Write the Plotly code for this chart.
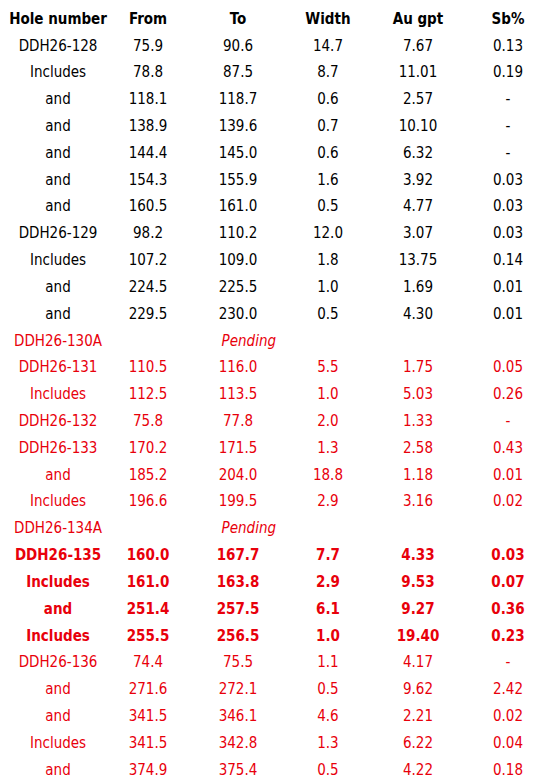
import plotly.graph_objects as go

headers = ["Hole number", "From", "To", "Width", "Au gpt", "Sb%"]
holes = ["DDH26-128", "Includes", "and", "and", "and", "and", "and", "DDH26-129", "Includes", "and", "and",
         "DDH26-130A", "DDH26-131", "Includes", "DDH26-132", "DDH26-133", "and", "Includes", "DDH26-134A",
         "DDH26-135", "Includes", "and", "Includes", "DDH26-136", "and", "and", "Includes", "and"]
from_m = ["75.9", "78.8", "118.1", "138.9", "144.4", "154.3", "160.5", "98.2", "107.2", "224.5", "229.5",
          "", "110.5", "112.5", "75.8", "170.2", "185.2", "196.6", "",
          "160.0", "161.0", "251.4", "255.5", "74.4", "271.6", "341.5", "341.5", "374.9"]
to_m = ["90.6", "87.5", "118.7", "139.6", "145.0", "155.9", "161.0", "110.2", "109.0", "225.5", "230.0",
        "<i>Pending</i>", "116.0", "113.5", "77.8", "171.5", "204.0", "199.5", "<i>Pending</i>",
        "167.7", "163.8", "257.5", "256.5", "75.5", "272.1", "346.1", "342.8", "375.4"]
width = ["14.7", "8.7", "0.6", "0.7", "0.6", "1.6", "0.5", "12.0", "1.8", "1.0", "0.5",
         "", "5.5", "1.0", "2.0", "1.3", "18.8", "2.9", "",
         "7.7", "2.9", "6.1", "1.0", "1.1", "0.5", "4.6", "1.3", "0.5"]
au = ["7.67", "11.01", "2.57", "10.10", "6.32", "3.92", "4.77", "3.07", "13.75", "1.69", "4.30",
      "", "1.75", "5.03", "1.33", "2.58", "1.18", "3.16", "",
      "4.33", "9.53", "9.27", "19.40", "4.17", "9.62", "2.21", "6.22", "4.22"]
sb = ["0.13", "0.19", "-", "-", "-", "0.03", "0.03", "0.03", "0.14", "0.01", "0.01",
      "", "0.05", "0.26", "-", "0.43", "0.01", "0.02", "",
      "0.03", "0.07", "0.36", "0.23", "-", "2.42", "0.02", "0.04", "0.18"]
bold_rows = [19, 20, 21, 22]

RED = "#e8000b"
FONT = "DejaVu Sans Condensed, Liberation Sans Narrow, Arial"
cols = [holes, from_m, to_m, width, au, sb]

fig = go.Figure()
# header row
fig.add_trace(go.Scatter(x=list(range(6)), y=[0] * 6, mode="text",
                         text=[f"<b>{h}</b>" for h in headers],
                         textfont=dict(family=FONT, size=15, color="black")))
# body rows
for ci, col in enumerate(cols):
    xs, ys, txt, clr = [], [], [], []
    for ri, v in enumerate(col):
        if not v:
            continue
        xs.append(ci + (0.12 if "Pending" in v else 0))
        ys.append(ri + 1)
        txt.append(f"<b>{v}</b>" if ri in bold_rows else v)
        clr.append("black" if ri < 11 else RED)
    fig.add_trace(go.Scatter(x=xs, y=ys, mode="text", text=txt,
                             textfont=dict(family=FONT, size=15, color=clr)))

fig.update_xaxes(range=[-0.556, 5.456], visible=False)
fig.update_yaxes(range=[28.487, -0.447], visible=False)
fig.update_layout(width=541, height=776, margin=dict(l=0, r=0, t=0, b=0),
                  paper_bgcolor="white", plot_bgcolor="white", showlegend=False)
fig.write_html("out.html")
